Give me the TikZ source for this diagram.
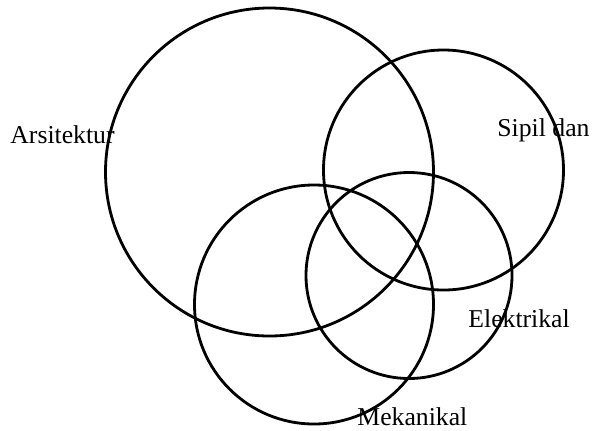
\documentclass[tikz,border=0pt]{standalone}
\usepackage{fontspec}
\setmainfont{Liberation Serif}
\usetikzlibrary{positioning}
\definecolor{vnink}{HTML}{000000}

\begin{document}
\begin{tikzpicture}[x=0.5pt,y=-0.5pt]
\useasboundingbox (0,0) rectangle (594,430);
\tikzset{vnring/.style={vnink,line width=1.4pt},
  vnlabel/.style={vnink,font=\fontsize{12.85}{15}\selectfont,anchor=base west,inner sep=0pt}}
\draw[vnring] (269.5,172) circle[radius=164];
\draw[vnring] (443.5,170) circle[radius=120];
\draw[vnring] (314,304.5) circle[radius=119.5];
\draw[vnring] (409,275.5) circle[radius=103];
\node[vnlabel] (arsitektur) at (10,143) {Arsitektur};
\node[vnlabel] (sipil) at (497,136) {Sipil dan};
\node[vnlabel] (elektrikal) at (468,327) {Elektrikal};
\node[vnlabel] (mekanikal) at (357,425) {Mekanikal};
\end{tikzpicture}
\end{document}
